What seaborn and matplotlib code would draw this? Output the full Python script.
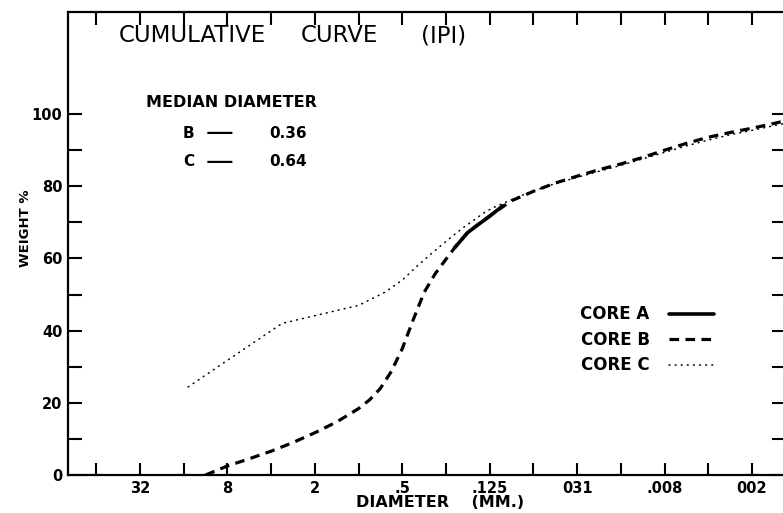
import matplotlib
matplotlib.use("Agg")
import matplotlib.pyplot as plt
import seaborn as sns
import pandas as pd
from matplotlib.ticker import FixedLocator, FixedFormatter

# ---- data (x = phi units, -log2(diameter in mm); y = cumulative weight %) ----
phi_b = [-3.5, -3.0, -2.5, -2.0, -1.5, -1.0, -0.5, 0.0, 0.25, 0.5, 0.75, 1.0,
         1.25, 1.5, 1.75, 2.0, 2.25, 2.5, 3.0, 3.5, 4.0, 4.5, 5.0, 5.5, 6.0,
         6.5, 7.0, 7.5, 8.0, 8.5, 9.0, 9.5, 9.78]
wt_b = [0.0, 2.5, 4.5, 6.6, 9.0, 11.7, 14.7, 18.4, 20.8, 24.0, 28.7, 35.0,
        43.0, 50.6, 55.7, 59.8, 63.8, 67.3, 71.8, 76.0, 78.6, 80.9, 82.8, 84.6,
        86.2, 88.0, 90.0, 91.9, 93.6, 94.9, 96.1, 97.4, 98.2]

phi_a = [2.2, 2.5, 2.75, 3.0, 3.3]
wt_a = [63.0, 67.2, 69.5, 71.7, 74.6]

phi_c = [-3.9, -1.75, 0.0, 0.3, 0.6, 1.0, 1.35, 1.68, 2.0, 2.2, 2.4, 2.6,
         2.85, 3.05, 3.25, 3.8, 4.3, 5.0, 6.0, 7.0, 7.5, 8.0, 8.5, 9.0, 9.5, 9.78]
wt_c = [24.4, 42.0, 47.0, 48.8, 50.6, 54.0, 58.0, 61.5, 64.7, 66.7, 68.6, 70.3,
        72.5, 73.9, 75.0, 77.8, 80.0, 82.5, 85.8, 89.4, 91.2, 92.8, 94.3, 95.5,
        96.8, 97.5]

x_label_pos = [-5, -3, -1, 1, 3, 5, 7, 9]
x_labels = ["32", "8", "2", ".5", ".125", "031", ".008", "002"]
y_major = [0, 20, 40, 60, 80, 100]
y_minor = [10, 30, 50, 70, 90]

median_names = ["B", "C"]
median_values = ["0.36", "0.64"]

# ---- figure ----
sns.set_style("white")
plt.rcParams["font.family"] = ["DejaVu Sans"]
plt.rcParams["text.color"] = "black"
plt.rcParams["axes.labelcolor"] = "black"
plt.rcParams["xtick.color"] = "black"
plt.rcParams["ytick.color"] = "black"
plt.rcParams["legend.labelcolor"] = "black"

W, H = 783, 513
fig = plt.figure(figsize=(W / 100, H / 100), dpi=100)
ax = fig.add_axes([68 / W, 38 / H, (786 - 68) / W, 463 / H])

df_a = pd.DataFrame({"phi": phi_a, "wt": wt_a})
df_b = pd.DataFrame({"phi": phi_b, "wt": wt_b})
df_c = pd.DataFrame({"phi": phi_c, "wt": wt_c})

sns.lineplot(data=df_c, x="phi", y="wt", ax=ax, color="black", lw=1.1,
             linestyle=(0, (0.6, 3.4)), dash_capstyle="round", label="CORE C")
sns.lineplot(data=df_b, x="phi", y="wt", ax=ax, color="black", lw=2.3,
             linestyle=(0, (3.0, 2.0)), label="CORE B")
sns.lineplot(data=df_a, x="phi", y="wt", ax=ax, color="black", lw=2.6,
             linestyle="-", label="CORE A")

ax.set_xlim(-6.647, 9.779)
ax.set_ylim(0, 128.3)

ax.xaxis.set_major_locator(FixedLocator(x_label_pos))
ax.xaxis.set_major_formatter(FixedFormatter(x_labels))
ax.xaxis.set_minor_locator(FixedLocator([-6, -4, -2, 0, 2, 4, 6, 8]))
ax.yaxis.set_major_locator(FixedLocator(y_major))
ax.yaxis.set_minor_locator(FixedLocator(y_minor))

ax.tick_params(axis="x", which="both", direction="in", length=9, width=1.5,
               top=True, bottom=True, pad=4, labelsize=10.5, color="black")
ax.tick_params(axis="y", which="both", direction="in", length=10, width=1.5,
               left=True, right=True, pad=4, labelsize=10.5, color="black")
for lab in ax.get_xticklabels() + ax.get_yticklabels():
    lab.set_fontweight("bold")

for s in ax.spines.values():
    s.set_linewidth(1.6)
    s.set_color("black")

ax.set_xlabel("DIAMETER    (MM.)", fontsize=11.5, fontweight="bold")
ax.xaxis.set_label_coords((440 - 68) / 718, -0.043)
ax.set_ylabel("WEIGHT %", fontsize=9.5, fontweight="bold")
ax.yaxis.set_label_coords(-0.050, 0.533)

# legend: text first, line sample after
handles, labels = ax.get_legend_handles_labels()
order = [labels.index("CORE A"), labels.index("CORE B"), labels.index("CORE C")]
leg = ax.legend([handles[i] for i in order], [labels[i] for i in order],
                loc="upper left", bbox_to_anchor=(572 / W, 1 - 297 / H),
                bbox_transform=fig.transFigure, frameon=False,
                markerfirst=False, handlelength=2.7, handletextpad=1.15,
                labelspacing=0.45, borderpad=0,
                prop={"weight": "bold", "size": 12})

# title and median-diameter block
def px(x, y):
    return x / W, 1 - y / H

fig.text(*px(119, 36), "CUMULATIVE", fontsize=16.5, va="center", ha="left")
fig.text(*px(301, 36), "CURVE", fontsize=16.5, va="center", ha="left")
fig.text(*px(421, 36), "(IPI)", fontsize=16.5, va="center", ha="left")

fig.text(*px(146, 103), "MEDIAN DIAMETER", fontsize=11.5, fontweight="bold",
         va="center", ha="left")
for i, (nm, val) in enumerate(zip(median_names, median_values)):
    yy = 133 + 29 * i
    fig.text(*px(183, yy), nm, fontsize=11, fontweight="bold", va="center", ha="left")
    fig.text(*px(206, yy), "—", fontsize=20, va="center", ha="left")
    fig.text(*px(307, yy), val, fontsize=11, fontweight="bold", va="center", ha="right")

fig.savefig("out.png", dpi=100, facecolor="white")
